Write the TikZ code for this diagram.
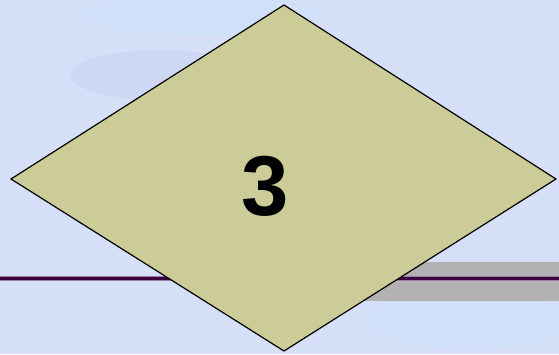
\documentclass[tikz,border=0pt]{standalone}
\usepackage{fontspec}
\setmainfont{Liberation Sans}
\begin{document}
\begin{tikzpicture}[x=1pt,y=-1pt,
  diam/.style={draw=black,line width=1.2pt,fill=khaki,line join=miter},
  numtext/.style={font=\fontsize{85}{85}\selectfont\bfseries,text=black,inner sep=0pt}]
\definecolor{bgblue}{HTML}{D5E0F8}
\definecolor{khaki}{HTML}{CCCC99}
\definecolor{barpurple}{HTML}{3A0040}
\definecolor{bargrey}{HTML}{B2B2B2}
\useasboundingbox (0,0) rectangle (559,354);
\fill[bgblue] (0,0) rectangle (559,354);
\fill[cyan!30,opacity=0.12] (200,15) ellipse (120 and 20);
\fill[blue!40!gray,opacity=0.05] (160,75) ellipse (90 and 25);
\fill[cyan!30,opacity=0.15] (470,320) ellipse (100 and 30);
\fill[bargrey] (340,262) rectangle (559,301);
\fill[barpurple!50!white] (0,275.5) rectangle (559,281);
\fill[barpurple] (0,276.5) rectangle (559,280);
\coordinate (t) at (284,5);
\coordinate (l) at (11,179);
\coordinate (r) at (556,179);
\coordinate (b) at (284,351);
\draw[diam] (t) -- (r) -- (b) -- (l) -- cycle;
\node[numtext] (n) at (265,186) {3};
\end{tikzpicture}
\end{document}
